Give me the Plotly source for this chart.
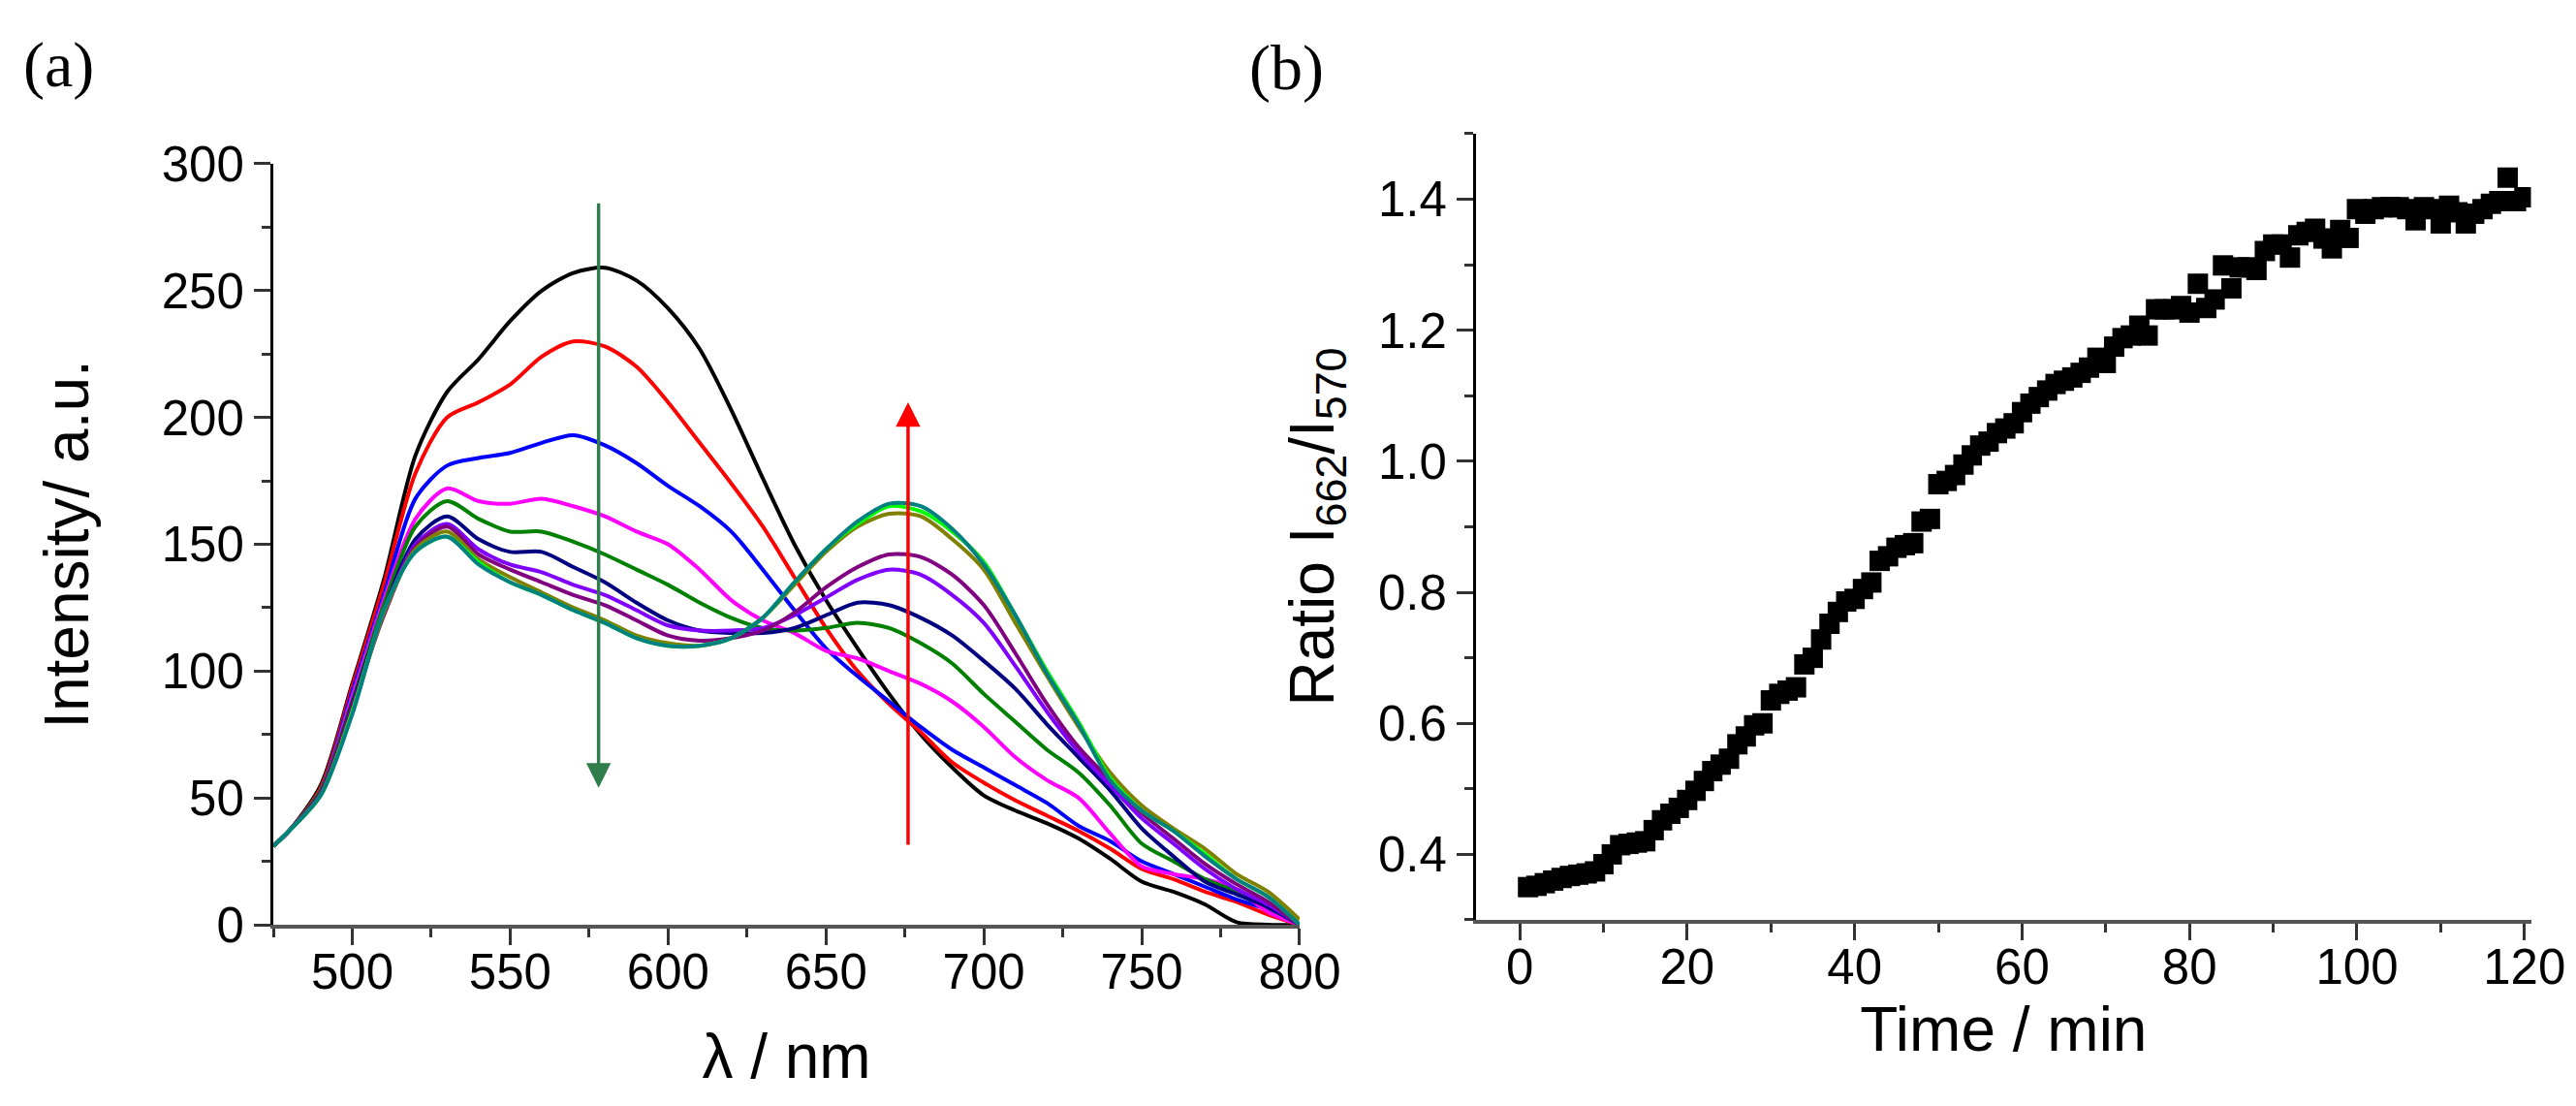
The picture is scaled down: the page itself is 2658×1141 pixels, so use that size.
import plotly.graph_objects as go

# ---------------- Panel (a): emission spectra ----------------
wavelength = [475, 480, 490, 500, 510, 520, 530, 540, 550, 560, 570, 580, 590, 600, 610,
              620, 630, 640, 650, 660, 670, 680, 690, 700, 710, 720, 730, 740, 750, 760,
              770, 780, 790, 800]

i_black   = [31, 37, 55, 95, 136, 185, 210, 223, 238, 250, 257, 259, 254, 243, 227, 203, 176, 150, 128, 109, 91, 75, 62, 51, 45, 40, 34, 26, 17, 13, 8, 1, 0, 0]
i_red     = [31, 37, 54, 94, 134, 178, 200, 206, 213, 224, 230, 228, 220, 206, 190, 174, 157, 137, 117, 100, 87, 76, 64, 56, 49, 43, 37, 30, 22, 18, 13, 9, 4, 0]
i_blue    = [31, 37, 53, 92, 130, 168, 181, 184, 186, 190, 193, 189, 182, 173, 165, 155, 140, 124, 109, 98, 88, 78, 69, 62, 55, 48, 39, 33, 25, 20, 15, 10, 6, 0]
i_magenta = [31, 37, 53, 90, 128, 160, 172, 167, 166, 168, 165, 161, 155, 150, 140, 128, 120, 115, 108, 105, 100, 95, 88, 78, 66, 57, 50, 36, 23, 20, 18, 14, 5, 0]
i_green   = [31, 37, 53, 88, 126, 157, 167, 160, 155, 155, 151, 146, 140, 134, 127, 121, 117, 116, 117, 119, 117, 111, 103, 91, 80, 69, 60, 47, 32, 25, 18, 13, 7, 0]
i_navy    = [31, 37, 52, 87, 124, 152, 161, 152, 147, 147, 141, 135, 127, 120, 116, 115, 115, 117, 122, 127, 126, 121, 114, 104, 93, 79, 66, 53, 38, 27, 17, 12, 7, 0]
i_violet  = [31, 37, 52, 86, 123, 150, 158, 148, 142, 139, 134, 130, 124, 118, 116, 116, 117, 122, 129, 136, 140, 138, 130, 119, 102, 84, 68, 55, 42, 32, 22, 14, 8, 0]
i_purple  = [31, 37, 52, 86, 122, 149, 157, 146, 140, 135, 130, 126, 120, 114, 112, 113, 116, 123, 133, 141, 146, 145, 138, 126, 107, 87, 70, 57, 44, 34, 24, 16, 9, 0]
i_olive   = [31, 37, 51, 84, 123, 148, 155, 144, 137, 131, 125, 120, 114, 111, 110, 113, 121, 134, 147, 157, 162, 161, 152, 140, 119, 98, 78, 60, 47, 38, 30, 20, 13, 2]
i_lime    = [31, 37, 51, 84, 124, 147, 153, 143, 135, 130, 124, 119, 113, 110, 110, 113, 121, 135, 148, 158, 165, 163, 155, 143, 122, 100, 80, 58, 45, 37, 28, 18, 11, 0]
i_teal    = [31, 37, 51, 83, 124, 147, 153, 142, 135, 130, 124, 119, 113, 110, 110, 113, 121, 135, 148, 159, 166, 165, 156, 142, 122, 99, 79, 57, 45, 37, 27, 18, 11, 0]

spectra = [i_black, i_red, i_blue, i_magenta, i_green, i_navy, i_violet, i_purple, i_olive, i_lime, i_teal]
spectra_colors = ["#000000", "#FF0000", "#0000FF", "#FF00FF", "#008000", "#000080",
                  "#8000FF", "#800080", "#808000", "#00FF00", "#008080"]

# arrows (wavelength, start, end)
down_arrow = (578, 285, 54)
up_arrow = (676, 31, 206)

# ---------------- Panel (b): ratio vs time ----------------
time_min = list(range(1, 121))
ratio = [0.350, 0.352, 0.356, 0.360, 0.364, 0.367, 0.369, 0.371, 0.374, 0.385,
         0.400, 0.414, 0.416, 0.418, 0.420, 0.437, 0.452, 0.462, 0.471, 0.483,
         0.497, 0.512, 0.527, 0.537, 0.546, 0.568, 0.580, 0.597, 0.600, 0.635,
         0.645, 0.650, 0.655, 0.690, 0.700, 0.728, 0.752, 0.770, 0.786, 0.790,
         0.805, 0.815, 0.848, 0.855, 0.868, 0.872, 0.875, 0.908, 0.912, 0.965,
         0.970, 0.979, 0.995, 1.009, 1.024, 1.030, 1.043, 1.050, 1.058, 1.075,
         1.088, 1.098, 1.108, 1.118, 1.123, 1.128, 1.135, 1.143, 1.158, 1.150,
         1.175, 1.188, 1.192, 1.207, 1.192, 1.232, 1.232, 1.232, 1.237, 1.227,
         1.271, 1.234, 1.247, 1.299, 1.264, 1.296, 1.296, 1.292, 1.321, 1.331,
         1.331, 1.311, 1.345, 1.350, 1.355, 1.340, 1.325, 1.353, 1.341, 1.385,
         1.378, 1.385, 1.388, 1.388, 1.388, 1.385, 1.368, 1.388, 1.385, 1.363,
         1.390, 1.380, 1.363, 1.378, 1.385, 1.393, 1.397, 1.433, 1.397, 1.403]

SANS = "Liberation Sans, Arial, sans-serif"
SERIF = "Liberation Serif, Times New Roman, serif"
TICK_FONT = dict(family=SANS, size=51, color="black")
TITLE_FONT = dict(family=SANS, size=64, color="black")

fig = go.Figure()

for vals, col in zip(spectra, spectra_colors):
    fig.add_trace(go.Scatter(x=wavelength, y=vals, mode="lines",
                             line=dict(color=col, width=4, shape="spline", smoothing=0.8),
                             xaxis="x", yaxis="y", hoverinfo="skip"))

fig.add_trace(go.Scatter(x=time_min, y=ratio, mode="markers",
                         marker=dict(symbol="square", size=21, color="black",
                                     line=dict(width=0)),
                         xaxis="x2", yaxis="y2"))

common_axis = dict(showgrid=False, zeroline=False, showline=True, ticks="outside",
                   automargin=False,
                   tickfont=TICK_FONT, ticklen=17, tickwidth=3, tickcolor="#333333")

fig.update_layout(
    template="none",
    width=2658, height=1141,
    margin=dict(l=0, r=0, t=0, b=0, pad=0),
    paper_bgcolor="white", plot_bgcolor="white",
    showlegend=False,
    xaxis=dict(common_axis, domain=[0.1031, 0.5015], range=[475, 800],
               tick0=500, dtick=50, linecolor="#555555", linewidth=4, anchor="y",
               ticklabelstandoff=-16,
               minor=dict(tick0=475, dtick=25, ticklen=9, tickwidth=3, ticks="outside",
                          tickcolor="#333333"),
               title=dict(text="λ / nm", font=TITLE_FONT, standoff=38)),
    yaxis=dict(common_axis, domain=[0.1709, 0.8589], range=[0, 300],
               tick0=0, dtick=50, linecolor="black", linewidth=3, anchor="x",
               minor=dict(tick0=0, dtick=25, ticklen=9, tickwidth=3, ticks="outside",
                          tickcolor="#333333"),
               title=dict(text="Intensity/ a.u.", font=TITLE_FONT, standoff=55)),
    xaxis2=dict(common_axis, domain=[0.570, 0.9795], range=[-5.21, 120.78],
                tick0=0, dtick=20, linecolor="#555555", linewidth=4, anchor="y2",
                ticklabelstandoff=-16,
                minor=dict(tick0=0, dtick=10, ticklen=9, tickwidth=3, ticks="outside",
                           tickcolor="#333333"),
                title=dict(text="Time / min", font=TITLE_FONT, standoff=12)),
    yaxis2=dict(common_axis, domain=[0.1753, 0.8861], range=[0.3, 1.5],
                tick0=0.4, dtick=0.2, tickformat=".1f", linecolor="black", linewidth=3,
                anchor="x2",
                minor=dict(tick0=0.3, dtick=0.1, ticklen=9, tickwidth=3, ticks="outside",
                           tickcolor="#333333"),
                title=dict(text="Ratio I<sub>662</sub>/I<sub>570</sub>", font=TITLE_FONT,
                           standoff=25)),
)

# trend arrows in panel (a)
fig.add_annotation(x=down_arrow[0], y=down_arrow[2], ax=down_arrow[0], ay=down_arrow[1],
                   xref="x", yref="y", axref="x", ayref="y", text="", showarrow=True,
                   arrowhead=2, arrowsize=1.45, arrowwidth=3.5, arrowcolor="#2E7D4B")
fig.add_annotation(x=up_arrow[0], y=up_arrow[2], ax=up_arrow[0], ay=up_arrow[1],
                   xref="x", yref="y", axref="x", ayref="y", text="", showarrow=True,
                   arrowhead=2, arrowsize=1.45, arrowwidth=3.5, arrowcolor="#FF0000")

# panel labels
fig.add_annotation(x=0.0196, y=0.948, xref="paper", yref="paper", text="(a)",
                   showarrow=False, font=dict(family=SERIF, size=66, color="black"),
                   xanchor="center", yanchor="middle")
fig.add_annotation(x=0.4966, y=0.946, xref="paper", yref="paper", text="(b)",
                   showarrow=False, font=dict(family=SERIF, size=66, color="black"),
                   xanchor="center", yanchor="middle")

fig.write_html("out.html")
